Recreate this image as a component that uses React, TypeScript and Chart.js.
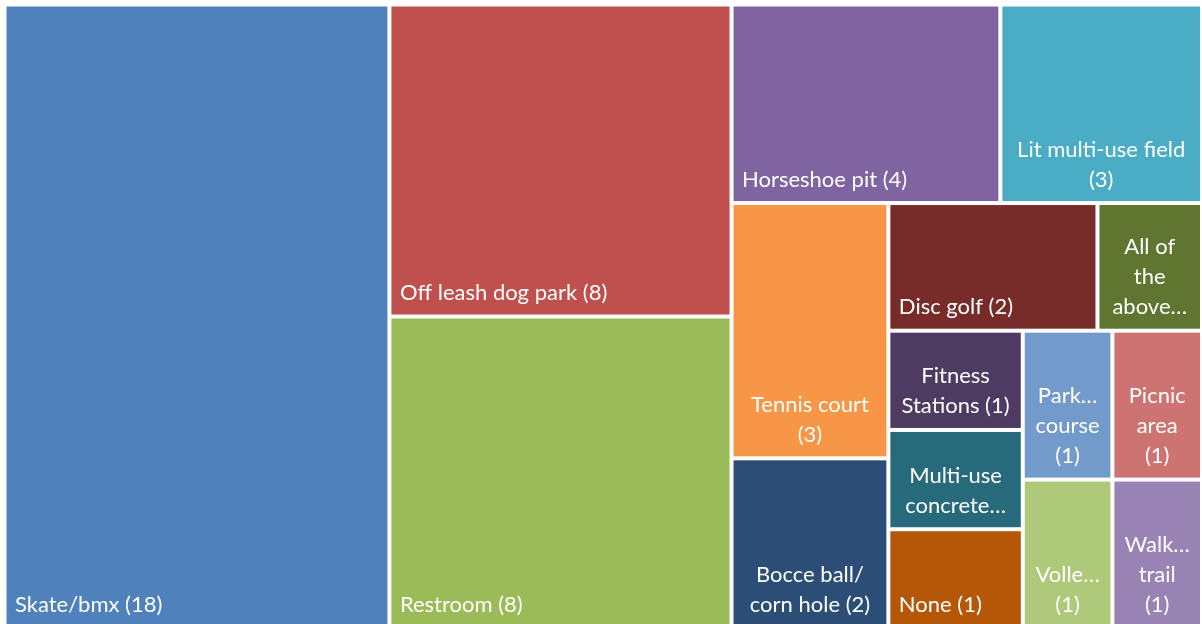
import React, { useEffect, useRef } from "react";
import { Chart, registerables } from "chart.js";

Chart.register(...registerables);

// ---- Data ----
const categories = [
  "Skate/bmx",
  "Off leash dog park",
  "Restroom",
  "Horseshoe pit",
  "Lit multi-use field",
  "Tennis court",
  "Bocce ball/ corn hole",
  "Disc golf",
  "All of the above…",
  "Fitness Stations",
  "Multi-use concrete…",
  "None",
  "Park… course",
  "Picnic area",
  "Volle…",
  "Walk… trail",
];

const values = [18, 8, 8, 4, 3, 3, 2, 2, 1, 1, 1, 1, 1, 1, 1, 1];

// label text as displayed (wrapped / truncated) in each cell
const labelLines: string[][] = [
  ["Skate/bmx (18)"],
  ["Off leash dog park (8)"],
  ["Restroom (8)"],
  ["Horseshoe pit (4)"],
  ["Lit multi-use field", "(3)"],
  ["Tennis court", "(3)"],
  ["Bocce ball/", "corn hole (2)"],
  ["Disc golf (2)"],
  ["All of", "the", "above…"],
  ["Fitness", "Stations (1)"],
  ["Multi-use", "concrete…"],
  ["None (1)"],
  ["Park…", "course", "(1)"],
  ["Picnic", "area", "(1)"],
  ["Volle…", "(1)"],
  ["Walk…", "trail", "(1)"],
];

const colors = [
  "#4F81BD",
  "#C0504D",
  "#9BBB59",
  "#8064A2",
  "#4BACC6",
  "#F79646",
  "#2C4D75",
  "#772C2A",
  "#5F7530",
  "#4D3B62",
  "#276A7C",
  "#B65708",
  "#729ACA",
  "#CD7371",
  "#AFC97A",
  "#9983B5",
];

// ---- Layout space (data units of the x / y scales) ----
const LAYOUT_W = 1197.5;
const LAYOUT_H = 624;

type Rect = { x0: number; x1: number; y0: number; y1: number };

function sum(a: number[]) {
  return a.reduce((s, v) => s + v, 0);
}

function worst(row: number[], side: number) {
  const s = sum(row);
  const mx = Math.max(...row);
  const mn = Math.min(...row);
  return Math.max((side * side * mx) / (s * s), (s * s) / (side * side * mn));
}

function squarify(vals: number[], w: number, h: number): Rect[] {
  const total = sum(vals);
  const k = (w * h) / total;
  const areas = vals.map((v) => v * k);
  const rects: Rect[] = [];
  let rx = 0,
    ry = 0,
    rw = w,
    rh = h;
  let i = 0;
  while (i < areas.length) {
    const side = Math.min(rw, rh);
    let row = [areas[i]];
    let j = i + 1;
    while (j < areas.length) {
      const cand = [...row, areas[j]];
      if (worst(cand, side) <= worst(row, side)) {
        row = cand;
        j++;
      } else break;
    }
    const s = sum(row);
    if (rw >= rh) {
      const colW = s / rh;
      let cy = ry;
      row.forEach((a) => {
        const ch = a / colW;
        rects.push({ x0: rx, x1: rx + colW, y0: cy, y1: cy + ch });
        cy += ch;
      });
      rx += colW;
      rw -= colW;
    } else {
      const rowH = s / rw;
      let cx = rx;
      row.forEach((a) => {
        const cw = a / rowH;
        rects.push({ x0: cx, x1: cx + cw, y0: ry, y1: ry + rowH });
        cx += cw;
      });
      ry += rowH;
      rh -= rowH;
    }
    i = j;
  }
  return rects;
}

const GAP = 2; // half of white separator
const FONT = "22px Lato";
const LINE_H = 30;

const treemapPlugin = {
  id: "treemapCells",
  beforeDatasetsDraw(chart: any) {
    const ctx = chart.ctx as CanvasRenderingContext2D;
    const xs = chart.scales.x;
    const ys = chart.scales.y;
    const data = chart.data.datasets[0].data as any[];
    ctx.save();
    data.forEach((d, idx) => {
      const left = xs.getPixelForValue(d.x0) + GAP;
      const right = xs.getPixelForValue(d.x1) - GAP;
      const top = ys.getPixelForValue(d.y0) + GAP;
      const bottom = ys.getPixelForValue(d.y1) - GAP;
      ctx.fillStyle = colors[idx];
      ctx.fillRect(left, top, right - left, bottom - top);
    });
    ctx.font = FONT;
    ctx.fillStyle = "#FFFFFF";
    ctx.textBaseline = "alphabetic";
    data.forEach((d, idx) => {
      const left = xs.getPixelForValue(d.x0) + GAP;
      const right = xs.getPixelForValue(d.x1) - GAP;
      const bottom = ys.getPixelForValue(d.y1) - GAP;
      const lines = labelLines[idx];
      const lastBase = bottom - 14.5;
      lines.forEach((ln, li) => {
        const yb = lastBase - (lines.length - 1 - li) * LINE_H;
        if (lines.length === 1) {
          ctx.textAlign = "left";
          ctx.fillText(ln, left + 8.5, yb);
        } else {
          ctx.textAlign = "center";
          ctx.fillText(ln, (left + right) / 2, yb);
        }
      });
    });
    ctx.restore();
  },
};

export default function App() {
  const ref = useRef<HTMLCanvasElement | null>(null);

  useEffect(() => {
    if (!ref.current) return;
    const rects = squarify(values, LAYOUT_W, LAYOUT_H);
    const points = rects.map((r, i) => ({
      x: (r.x0 + r.x1) / 2,
      y: (r.y0 + r.y1) / 2,
      ...r,
      label: categories[i],
      value: values[i],
    }));
    const chart = new Chart(ref.current, {
      type: "scatter",
      data: {
        datasets: [
          {
            label: "Amenities",
            data: points as any,
            pointRadius: 0,
            pointHoverRadius: 0,
          },
        ],
      },
      options: {
        animation: false,
        responsive: false,
        devicePixelRatio: 1,
        layout: { padding: { left: 4.5, top: 4.5, right: 8, bottom: 11.5 } },
        scales: {
          x: { type: "linear", min: 0, max: LAYOUT_W, display: false },
          y: { type: "linear", min: 0, max: LAYOUT_H, reverse: true, display: false },
        },
        plugins: {
          legend: { display: false },
          tooltip: { enabled: false },
        },
        events: [],
      },
      plugins: [treemapPlugin],
    });
    return () => chart.destroy();
  }, []);

  return (
    <div
      style={{
        position: "fixed",
        left: 0,
        top: 0,
        width: 1202,
        height: 624,
        overflow: "hidden",
        background: "#FFFFFF",
      }}
    >
      <canvas
        ref={ref}
        width={1210}
        height={640}
        style={{ display: "block", width: 1210, height: 640 }}
      />
    </div>
  );
}
